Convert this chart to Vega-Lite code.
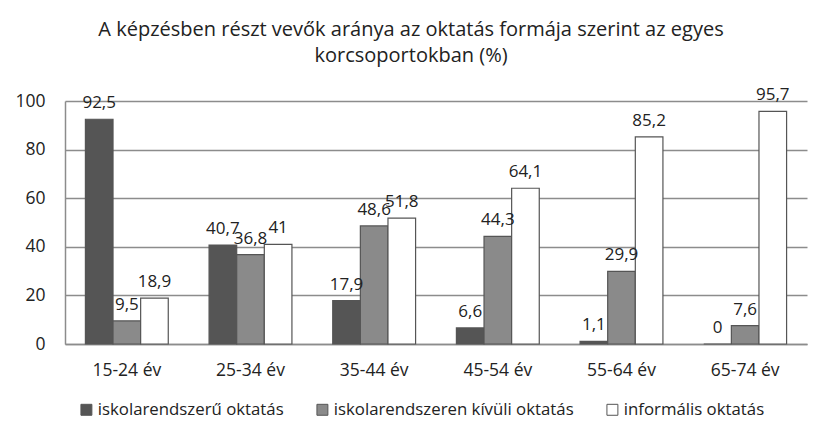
{
  "$schema": "https://vega.github.io/schema/vega-lite/v6.json",
  "autosize": "none",
  "width": 742,
  "height": 243,
  "padding": {"left": 65, "top": 101, "right": 12, "bottom": 94},
  "background": "white",
  "config": {
    "font": "Open Sans",
    "view": {"stroke": null},
    "locale": {"number": {"decimal": ",", "thousands": " ", "grouping": [3], "currency": ["", " Ft"]}}
  },
  "title": {
    "text": ["A képzésben részt vevők aránya az oktatás formája szerint az egyes", "korcsoportokban (%)"],
    "fontSize": 20,
    "fontWeight": "normal",
    "color": "#222222",
    "lineHeight": 26,
    "anchor": "middle",
    "dx": -25,
    "offset": 20
  },
  "data": {
    "values": [
      {"korcsoport": "15-24 év", "forma": "iskolarendszerű oktatás", "ertek": 92.5},
      {"korcsoport": "15-24 év", "forma": "iskolarendszeren kívüli oktatás", "ertek": 9.5},
      {"korcsoport": "15-24 év", "forma": "informális oktatás", "ertek": 18.9},
      {"korcsoport": "25-34 év", "forma": "iskolarendszerű oktatás", "ertek": 40.7},
      {"korcsoport": "25-34 év", "forma": "iskolarendszeren kívüli oktatás", "ertek": 36.8},
      {"korcsoport": "25-34 év", "forma": "informális oktatás", "ertek": 41},
      {"korcsoport": "35-44 év", "forma": "iskolarendszerű oktatás", "ertek": 17.9},
      {"korcsoport": "35-44 év", "forma": "iskolarendszeren kívüli oktatás", "ertek": 48.6},
      {"korcsoport": "35-44 év", "forma": "informális oktatás", "ertek": 51.8},
      {"korcsoport": "45-54 év", "forma": "iskolarendszerű oktatás", "ertek": 6.6},
      {"korcsoport": "45-54 év", "forma": "iskolarendszeren kívüli oktatás", "ertek": 44.3},
      {"korcsoport": "45-54 év", "forma": "informális oktatás", "ertek": 64.1},
      {"korcsoport": "55-64 év", "forma": "iskolarendszerű oktatás", "ertek": 1.1},
      {"korcsoport": "55-64 év", "forma": "iskolarendszeren kívüli oktatás", "ertek": 29.9},
      {"korcsoport": "55-64 év", "forma": "informális oktatás", "ertek": 85.2},
      {"korcsoport": "65-74 év", "forma": "iskolarendszerű oktatás", "ertek": 0},
      {"korcsoport": "65-74 év", "forma": "iskolarendszeren kívüli oktatás", "ertek": 7.6},
      {"korcsoport": "65-74 év", "forma": "informális oktatás", "ertek": 95.7}
    ]
  },
  "encoding": {
    "x": {
      "field": "korcsoport",
      "type": "nominal",
      "sort": null,
      "scale": {"paddingInner": 0.33, "paddingOuter": 0.165},
      "axis": {
        "title": null,
        "labelAngle": 0,
        "labelFontSize": 17.5,
        "labelColor": "#222222",
        "labelPadding": 17,
        "ticks": false,
        "domainColor": "#8c8c8c",
        "domainWidth": 1.5
      }
    },
    "xOffset": {
      "field": "forma",
      "type": "nominal",
      "sort": ["iskolarendszerű oktatás", "iskolarendszeren kívüli oktatás", "informális oktatás"],
      "scale": {"paddingInner": 0, "paddingOuter": 0}
    },
    "y": {
      "field": "ertek",
      "type": "quantitative",
      "scale": {"domain": [0, 100], "nice": false},
      "axis": {
        "title": null,
        "values": [0, 20, 40, 60, 80, 100],
        "labelFontSize": 17.5,
        "labelColor": "#222222",
        "labelPadding": 20,
        "ticks": false,
        "domainColor": "#8c8c8c",
        "domainWidth": 1.5,
        "gridColor": "#8c8c8c",
        "gridWidth": 1.5
      }
    }
  },
  "layer": [
    {
      "mark": {"type": "bar", "stroke": "#555555", "strokeWidth": 1.2},
      "encoding": {
        "color": {
          "field": "forma",
          "type": "nominal",
          "scale": {
            "domain": ["iskolarendszerű oktatás", "iskolarendszeren kívüli oktatás", "informális oktatás"],
            "range": ["#555555", "#8a8a8a", "#ffffff"]
          },
          "legend": {
            "title": null,
            "orient": "none",
            "direction": "horizontal",
            "legendX": 13,
            "legendY": 300,
            "symbolType": "square",
            "symbolSize": 120,
            "symbolStrokeColor": "#555555",
            "symbolStrokeWidth": 1,
            "labelFontSize": 16.8,
            "labelColor": "#222222",
            "labelOffset": 3,
            "labelLimit": 300,
            "columnPadding": 30
          }
        }
      }
    },
    {
      "mark": {"type": "text", "baseline": "bottom", "dy": -7, "fontSize": 17, "color": "#222222"},
      "encoding": {
        "text": {"field": "ertek", "type": "quantitative", "format": ".1~f"}
      }
    }
  ]
}
